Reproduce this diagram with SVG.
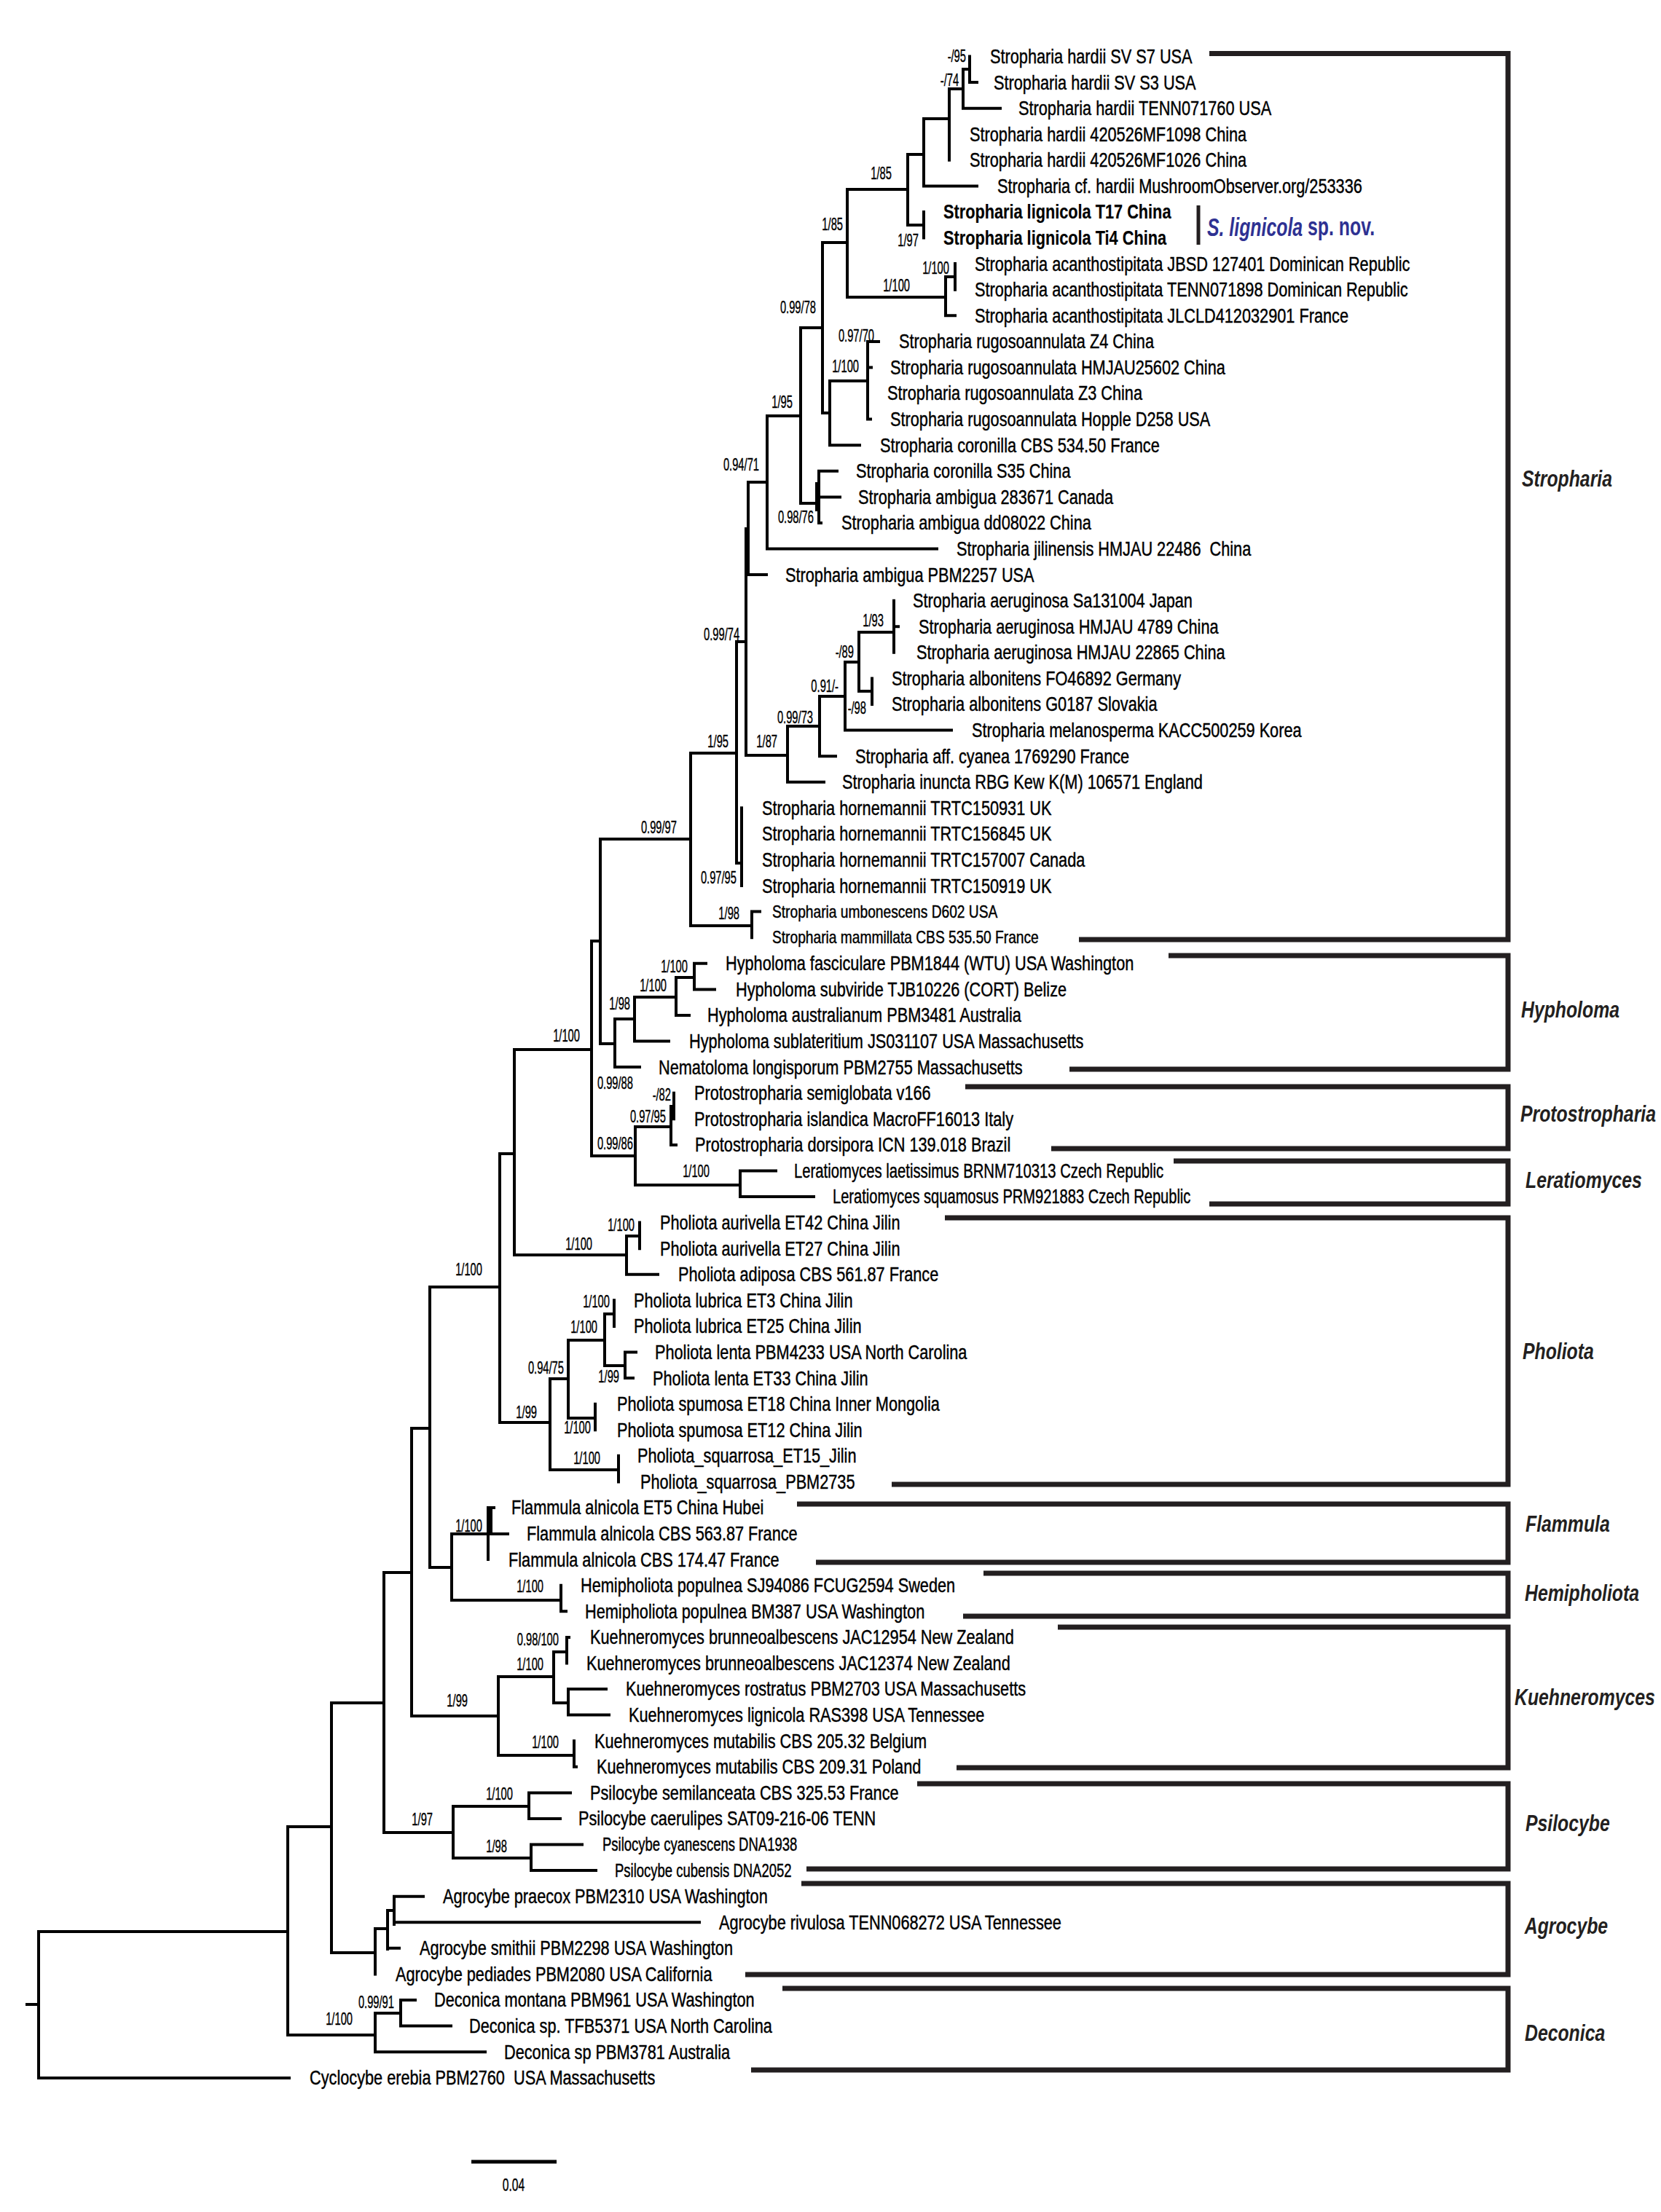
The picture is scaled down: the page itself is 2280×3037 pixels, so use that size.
<svg xmlns="http://www.w3.org/2000/svg" width="2280" height="3037" viewBox="0 0 2280 3037">
<style>
text { font-family: "Liberation Sans", Arial, sans-serif; fill: #000; dominant-baseline: central; transform-box: fill-box; }
.t { font-size: 27.5px; transform-origin: 0 50%; transform: scaleX(0.79); stroke: #000; stroke-width: 0.45px; }
.tb { font-weight: bold; stroke-width: 0.2px; }
.ts { font-size: 24px; transform: scaleX(0.8); }
.tc { font-size: 25px; transform: scaleX(0.74); }
.pre { white-space: pre; }
.b { font-size: 23px; text-anchor: end; transform-origin: 100% 50%; transform: scaleX(0.64); stroke: #000; stroke-width: 0.4px; }
.g { font-size: 31px; font-weight: bold; font-style: italic; fill: #231f20; transform-origin: 0 50%; transform: scaleX(0.8); }
.sp { font-size: 35px; font-weight: bold; fill: #2e3192; transform-origin: 0 50%; transform: scaleX(0.71); }
.sc { font-size: 23px; text-anchor: middle; transform-origin: 50% 50%; transform: scaleX(0.68); stroke: #000; stroke-width: 0.4px; }
.tr { fill: none; stroke: #000; stroke-width: 4; stroke-linecap: square; }
.br { fill: none; stroke: #231f20; stroke-width: 7; }
</style>
<rect width="2280" height="3037" fill="#fff"/>
<g id="connectors">
<path class="tr" d="M1331 77.5V113.1M1331 113.1H1341M1322 95V148.7M1322 95H1331M1322 148.7H1373M1303 122V219.8M1303 122H1322M1268 163V255.4M1268 163H1303M1268 255.4H1341M1268 291V326.6M1246 212V309M1246 212H1268M1246 309H1268M1311 362.1V397.7M1298 380V433.3M1298 380H1311M1298 433.3H1311M1163 260V408M1163 260H1246M1163 408H1298M1129 333V567M1129 333H1163M1191 468.9V575.6M1191 468.9H1206M1191 504.5H1196M1191 575.6H1195M1139 523V611.2M1139 523H1191M1139 611.2H1180M1129 567H1139M1124 646.8V717.9M1121 664V700M1124 646.8H1149M1124 682.4H1153M1124 717.9H1127M1099 450V691M1099 450H1129M1099 691H1124M1053 571V753.5M1053 571H1099M1053 753.5H1286M1027 662V789.1M1027 662H1053M1027 789.1H1052M1024 726V1037M1024 726H1027M1024 1037H1081M1081 997V1073.7M1081 1073.7H1131M1081 997H1125M1125 956V1038.2M1125 1038.2H1147M1125 956H1160M1160 909V1002.6M1160 1002.6H1306M1160 909H1179M1179 868V949M1179 868H1227M1179 949H1197M1227 824.7V895.8M1227 860.3H1233M1197 931.4V967M1011 881V1185M1011 881H1024M1011 1185H1018M1018 1109.3V1216.1M948 1034V1271M948 1034H1011M948 1271H1032M1032 1251.6V1287.2M1032 1251.6H1043M824 1152V1433M824 1152H948M824 1433H844"/>
<path class="tr" d="M844 1399V1465.1M844 1465.1H878M844 1399H871M871 1369V1429.5M871 1429.5H918M871 1369H928M928 1342V1394M928 1394H946M928 1342H953M953 1322.8V1358.4M953 1322.8H969M953 1358.4H981M812 1292V1587M812 1292H824M812 1587H872M872 1547V1627M872 1547H921M872 1627H1016M921 1519V1571.9M921 1571.9H928M921 1519H925M925 1500.7V1536.3M1016 1607.4V1643M1016 1607.4H1065M1016 1643H1117M706 1441V1723M706 1441H812M706 1723H860M860 1697V1749.8M860 1749.8H903M860 1697H878M878 1678.6V1714.2M686 1584V1953M686 1584H706M686 1953H755M755 1893V2018M755 1893H780M755 2018H849M780 1840V1947M780 1840H830M780 1947H817M830 1804V1875M830 1804H843M830 1875H858M843 1785.3V1820.9M858 1856.5V1892.1M858 1856.5H873M858 1892.1H869M817 1927.7V1963.2M849 1998.8V2034.4"/>
<path class="tr" d="M590 1767V2152M590 1767H686M590 2152H620M620 2106V2197M620 2106H697M620 2197H770M670 2070V2141.1M674 2070V2106M670 2070H678M770 2176.7V2212.3M770 2212.3H777M565 1961V2356M565 1961H590M565 2356H684M684 2302V2410M684 2302H760M684 2410H788M760 2268V2338M760 2268H778M760 2338H780M778 2247.9V2283.5M778 2247.9H781M780 2319V2354.6M780 2319H832M780 2354.6H836M788 2390.2V2425.8M788 2425.8H791M527 2159V2516M527 2159H565M527 2516H622M622 2480V2551M622 2480H726M622 2551H729M726 2461.4V2496.9M726 2461.4H783M726 2496.9H769M729 2532.5V2568.1M729 2532.5H799M729 2568.1H818M455 2338V2681M455 2338H527M455 2681H515M515 2648V2710.4M515 2648H532M532 2623V2676M532 2674.8H548M532 2623H541M541 2603.7V2642M541 2603.7H581M541 2639.3H960M395 2508V2794M395 2508H455M395 2794H515M515 2764V2817.2M515 2817.2H666M515 2764H550M550 2746V2781.6M550 2746H570M550 2781.6H619M53 2652V2853M53 2652H395M53 2853H397M37 2752H53"/>
</g>
<g id="support-values">
<text class="b" x="1326" y="77">-/95</text>
<text class="b" x="1316" y="110">-/74</text>
<text class="b" x="1224" y="238">1/85</text>
<text class="b" x="1261" y="330">1/97</text>
<text class="b" x="1157" y="308">1/85</text>
<text class="b" x="1249" y="392">1/100</text>
<text class="b" x="1303" y="368">1/100</text>
<text class="b" x="1120" y="422">0.99/78</text>
<text class="b" x="1200" y="461">0.97/70</text>
<text class="b" x="1179" y="503">1/100</text>
<text class="b" x="1088" y="552">1/95</text>
<text class="b" x="1117" y="710">0.98/76</text>
<text class="b" x="1042" y="638">0.94/71</text>
<text class="b" x="1015" y="871">0.99/74</text>
<text class="b" x="1213" y="852">1/93</text>
<text class="b" x="1172" y="895">-/89</text>
<text class="b" x="1151" y="942">0.91/-</text>
<text class="b" x="1189" y="972">-/98</text>
<text class="b" x="1116" y="985">0.99/73</text>
<text class="b" x="1067" y="1018">1/87</text>
<text class="b" x="1000" y="1018">1/95</text>
<text class="b" x="929" y="1136">0.99/97</text>
<text class="b" x="1011" y="1205">0.97/95</text>
<text class="b" x="1015" y="1254">1/98</text>
<text class="b" x="944" y="1327">1/100</text>
<text class="b" x="915" y="1353">1/100</text>
<text class="b" x="865" y="1378">1/98</text>
<text class="b" x="796" y="1422">1/100</text>
<text class="b" x="869" y="1487">0.99/88</text>
<text class="b" x="921" y="1503">-/82</text>
<text class="b" x="914" y="1533">0.97/95</text>
<text class="b" x="869" y="1570">0.99/86</text>
<text class="b" x="974" y="1608">1/100</text>
<text class="b" x="871" y="1682">1/100</text>
<text class="b" x="813" y="1708">1/100</text>
<text class="b" x="662" y="1743">1/100</text>
<text class="b" x="837" y="1787">1/100</text>
<text class="b" x="820" y="1822">1/100</text>
<text class="b" x="774" y="1878">0.94/75</text>
<text class="b" x="850" y="1890">1/99</text>
<text class="b" x="737" y="1939">1/99</text>
<text class="b" x="811" y="1960">1/100</text>
<text class="b" x="824" y="2002">1/100</text>
<text class="b" x="662" y="2095">1/100</text>
<text class="b" x="746" y="2178">1/100</text>
<text class="b" x="767" y="2251">0.98/100</text>
<text class="b" x="746" y="2285">1/100</text>
<text class="b" x="642" y="2335">1/99</text>
<text class="b" x="767" y="2392">1/100</text>
<text class="b" x="704" y="2463">1/100</text>
<text class="b" x="594" y="2498">1/97</text>
<text class="b" x="696" y="2535">1/98</text>
<text class="b" x="541" y="2749">0.99/91</text>
<text class="b" x="484" y="2772">1/100</text>
</g>
<g id="clade-stropharia">
<g id="n00"><text class="t" x="1359" y="77.5">Stropharia hardii SV S7 USA</text></g>
<g id="n01"><text class="t" x="1364" y="113.1">Stropharia hardii SV S3 USA</text></g>
<g id="n02"><text class="t" x="1398" y="148.7">Stropharia hardii TENN071760 USA</text></g>
<g id="n03"><text class="t" x="1331" y="184.2">Stropharia hardii 420526MF1098 China</text></g>
<g id="n04"><text class="t" x="1331" y="219.8">Stropharia hardii 420526MF1026 China</text></g>
<g id="n05"><text class="t" x="1369" y="255.4">Stropharia cf. hardii MushroomObserver.org/253336</text></g>
<g id="n06"><text class="t tb" x="1295" y="291">Stropharia lignicola T17 China</text></g>
<g id="n07"><text class="t tb" x="1295" y="326.6">Stropharia lignicola Ti4 China</text></g>
<g id="n08"><text class="t" x="1338" y="362.1">Stropharia acanthostipitata JBSD 127401 Dominican Republic</text></g>
<g id="n09"><text class="t" x="1338" y="397.7">Stropharia acanthostipitata TENN071898 Dominican Republic</text></g>
<g id="n10"><text class="t" x="1338" y="433.3">Stropharia acanthostipitata JLCLD412032901 France</text></g>
<g id="n11"><text class="t" x="1234" y="468.9">Stropharia rugosoannulata Z4 China</text></g>
<g id="n12"><text class="t" x="1222" y="504.5">Stropharia rugosoannulata HMJAU25602 China</text></g>
<g id="n13"><text class="t" x="1218" y="540">Stropharia rugosoannulata Z3 China</text></g>
<g id="n14"><text class="t" x="1222" y="575.6">Stropharia rugosoannulata Hopple D258 USA</text></g>
<g id="n15"><text class="t" x="1208" y="611.2">Stropharia coronilla CBS 534.50 France</text></g>
<g id="n16"><text class="t" x="1175" y="646.8">Stropharia coronilla S35 China</text></g>
<g id="n17"><text class="t" x="1178" y="682.4">Stropharia ambigua 283671 Canada</text></g>
<g id="n18"><text class="t" x="1155" y="717.9">Stropharia ambigua dd08022 China</text></g>
<g id="n19"><text class="t pre" x="1313" y="753.5">Stropharia jilinensis HMJAU 22486  China</text></g>
<g id="n20"><text class="t" x="1078" y="789.1">Stropharia ambigua PBM2257 USA</text></g>
<g id="n21"><text class="t" x="1253" y="824.7">Stropharia aeruginosa Sa131004 Japan</text></g>
<g id="n22"><text class="t" x="1261" y="860.3">Stropharia aeruginosa HMJAU 4789 China</text></g>
<g id="n23"><text class="t" x="1258" y="895.8">Stropharia aeruginosa HMJAU 22865 China</text></g>
<g id="n24"><text class="t" x="1224" y="931.4">Stropharia albonitens FO46892 Germany</text></g>
<g id="n25"><text class="t" x="1224" y="967">Stropharia albonitens G0187 Slovakia</text></g>
<g id="n26"><text class="t" x="1334" y="1002.6">Stropharia melanosperma KACC500259 Korea</text></g>
<g id="n27"><text class="t" x="1174" y="1038.2">Stropharia aff. cyanea 1769290 France</text></g>
<g id="n28"><text class="t" x="1156" y="1073.7">Stropharia inuncta RBG Kew K(M) 106571 England</text></g>
<g id="n29"><text class="t" x="1046" y="1109.3">Stropharia hornemannii TRTC150931 UK</text></g>
<g id="n30"><text class="t" x="1046" y="1144.9">Stropharia hornemannii TRTC156845 UK</text></g>
<g id="n31"><text class="t" x="1046" y="1180.5">Stropharia hornemannii TRTC157007 Canada</text></g>
<g id="n32"><text class="t" x="1046" y="1216.1">Stropharia hornemannii TRTC150919 UK</text></g>
<g id="n33"><text class="t ts" x="1060" y="1251.6">Stropharia umbonescens D602 USA</text></g>
<g id="n34"><text class="t ts" x="1060" y="1287.2">Stropharia mammillata CBS 535.50 France</text></g>
</g>
<g id="clade-hypholoma">
<g id="n35"><text class="t" x="996" y="1322.8">Hypholoma fasciculare PBM1844 (WTU) USA Washington</text></g>
<g id="n36"><text class="t" x="1010" y="1358.4">Hypholoma subviride TJB10226 (CORT) Belize</text></g>
<g id="n37"><text class="t" x="971" y="1394">Hypholoma australianum PBM3481 Australia</text></g>
<g id="n38"><text class="t" x="946" y="1429.5">Hypholoma sublateritium JS031107 USA Massachusetts</text></g>
<g id="n39"><text class="t" x="904" y="1465.1">Nematoloma longisporum PBM2755 Massachusetts</text></g>
</g>
<g id="clade-protostropharia">
<g id="n40"><text class="t" x="953" y="1500.7">Protostropharia semiglobata v166</text></g>
<g id="n41"><text class="t" x="953" y="1536.3">Protostropharia islandica MacroFF16013 Italy</text></g>
<g id="n42"><text class="t" x="954" y="1571.9">Protostropharia dorsipora ICN 139.018 Brazil</text></g>
</g>
<g id="clade-leratiomyces">
<g id="n43"><text class="t" x="1090" y="1607.4" textLength="642" lengthAdjust="spacingAndGlyphs">Leratiomyces laetissimus BRNM710313 Czech Republic</text></g>
<g id="n44"><text class="t" x="1143" y="1643" textLength="622" lengthAdjust="spacingAndGlyphs">Leratiomyces squamosus PRM921883 Czech Republic</text></g>
</g>
<g id="clade-pholiota">
<g id="n45"><text class="t" x="906" y="1678.6">Pholiota aurivella ET42 China Jilin</text></g>
<g id="n46"><text class="t" x="906" y="1714.2">Pholiota aurivella ET27 China Jilin</text></g>
<g id="n47"><text class="t" x="931" y="1749.8">Pholiota adiposa CBS 561.87 France</text></g>
<g id="n48"><text class="t" x="870" y="1785.3">Pholiota lubrica ET3 China Jilin</text></g>
<g id="n49"><text class="t" x="870" y="1820.9">Pholiota lubrica ET25 China Jilin</text></g>
<g id="n50"><text class="t" x="899" y="1856.5">Pholiota lenta PBM4233 USA North Carolina</text></g>
<g id="n51"><text class="t" x="896" y="1892.1">Pholiota lenta ET33 China Jilin</text></g>
<g id="n52"><text class="t" x="847" y="1927.7">Pholiota spumosa ET18 China Inner Mongolia</text></g>
<g id="n53"><text class="t" x="847" y="1963.2">Pholiota spumosa ET12 China Jilin</text></g>
<g id="n54"><text class="t" x="875" y="1998.8">Pholiota_squarrosa_ET15_Jilin</text></g>
<g id="n55"><text class="t" x="879" y="2034.4">Pholiota_squarrosa_PBM2735</text></g>
</g>
<g id="clade-flammula">
<g id="n56"><text class="t" x="702" y="2070">Flammula alnicola ET5 China Hubei</text></g>
<g id="n57"><text class="t" x="723" y="2105.6">Flammula alnicola CBS 563.87 France</text></g>
<g id="n58"><text class="t" x="698" y="2141.1">Flammula alnicola CBS 174.47 France</text></g>
</g>
<g id="clade-hemipholiota">
<g id="n59"><text class="t" x="797" y="2176.7">Hemipholiota populnea SJ94086 FCUG2594 Sweden</text></g>
<g id="n60"><text class="t" x="803" y="2212.3">Hemipholiota populnea BM387 USA Washington</text></g>
</g>
<g id="clade-kuehneromyces">
<g id="n61"><text class="t" x="810" y="2247.9">Kuehneromyces brunneoalbescens JAC12954 New Zealand</text></g>
<g id="n62"><text class="t" x="805" y="2283.5">Kuehneromyces brunneoalbescens JAC12374 New Zealand</text></g>
<g id="n63"><text class="t" x="859" y="2319">Kuehneromyces rostratus PBM2703 USA Massachusetts</text></g>
<g id="n64"><text class="t" x="863" y="2354.6">Kuehneromyces lignicola RAS398 USA Tennessee</text></g>
<g id="n65"><text class="t" x="816" y="2390.2">Kuehneromyces mutabilis CBS 205.32 Belgium</text></g>
<g id="n66"><text class="t" x="819" y="2425.8">Kuehneromyces mutabilis CBS 209.31 Poland</text></g>
</g>
<g id="clade-psilocybe">
<g id="n67"><text class="t" x="810" y="2461.4">Psilocybe semilanceata CBS 325.53 France</text></g>
<g id="n68"><text class="t" x="794" y="2496.9">Psilocybe caerulipes SAT09-216-06 TENN</text></g>
<g id="n69"><text class="t tc" x="827" y="2532.5">Psilocybe cyanescens DNA1938</text></g>
<g id="n70"><text class="t tc" x="844" y="2568.1">Psilocybe cubensis DNA2052</text></g>
</g>
<g id="clade-agrocybe">
<g id="n71"><text class="t" x="608" y="2603.7">Agrocybe praecox PBM2310 USA Washington</text></g>
<g id="n72"><text class="t" x="987" y="2639.3">Agrocybe rivulosa TENN068272 USA Tennessee</text></g>
<g id="n73"><text class="t" x="576" y="2674.8">Agrocybe smithii PBM2298 USA Washington</text></g>
<g id="n74"><text class="t" x="543" y="2710.4">Agrocybe pediades PBM2080 USA California</text></g>
</g>
<g id="clade-deconica">
<g id="n75"><text class="t" x="596" y="2746">Deconica montana PBM961 USA Washington</text></g>
<g id="n76"><text class="t" x="644" y="2781.6">Deconica sp. TFB5371 USA North Carolina</text></g>
<g id="n77"><text class="t" x="692" y="2817.2">Deconica sp PBM3781 Australia</text></g>
</g>
<g id="outgroup">
<g id="n78"><text class="t pre" x="425" y="2852.7">Cyclocybe erebia PBM2760  USA Massachusetts</text></g>
</g>
<g id="new-species">
<path d="M1645 282V336" fill="none" stroke="#231f20" stroke-width="5"/>
<text class="sp" x="1657" y="311"><tspan font-style="italic">S. lignicola</tspan> sp. nov.</text>
</g>
<g id="genus-brackets">
<path class="br" d="M1660 73.5H2070V1290H1481"/>
<path class="br" d="M1604 1312H2070V1468H1468"/>
<path class="br" d="M1325 1492H2070V1577H1443"/>
<path class="br" d="M1611 1594H2070V1653H1660"/>
<path class="br" d="M1297 1672H2070V2038H1224"/>
<path class="br" d="M1094 2065H2070V2145H1120"/>
<path class="br" d="M1350 2160H2070V2219H1322"/>
<path class="br" d="M1452 2234H2070V2427H1313"/>
<path class="br" d="M1259 2449H2070V2566H1107"/>
<path class="br" d="M1100 2586H2070V2711H1023"/>
<path class="br" d="M1074 2730H2070V2842H1031"/>
<text class="g" x="2089" y="658">Stropharia</text>
<text class="g" x="2088" y="1387">Hypholoma</text>
<text class="g" x="2087" y="1530">Protostropharia</text>
<text class="g" x="2094" y="1621">Leratiomyces</text>
<text class="g" x="2090" y="1856">Pholiota</text>
<text class="g" x="2094" y="2093">Flammula</text>
<text class="g" x="2093" y="2188">Hemipholiota</text>
<text class="g" x="2079" y="2331">Kuehneromyces</text>
<text class="g" x="2094" y="2504">Psilocybe</text>
<text class="g" x="2093" y="2645">Agrocybe</text>
<text class="g" x="2093" y="2792">Deconica</text>
</g>
<g id="scale-bar">
<path d="M647 2968H764" fill="none" stroke="#000" stroke-width="5"/>
<text class="sc" x="705" y="3000">0.04</text>
</g>
</svg>
